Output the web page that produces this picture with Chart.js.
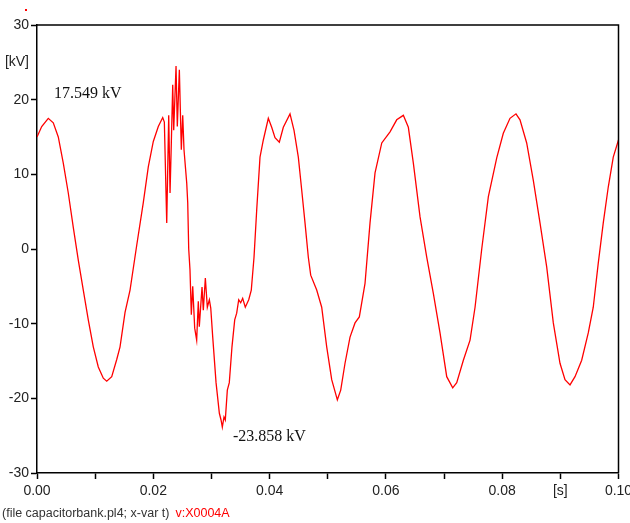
<!DOCTYPE html>
<html>
<head>
<meta charset="utf-8">
<script src="https://cdn.jsdelivr.net/npm/chart.js@4/dist/chart.umd.min.js"></script>
<style>
html,body{margin:0;padding:0;background:#fff;}
canvas{display:block;}
</style>
</head>
<body>
<canvas id="c" width="630" height="523"></canvas>
<script>
// time [s]
const times = [
0.0000,0.00081,0.00194,0.00280,0.00366,0.00452,0.00538,0.00624,0.00710,0.00796,
0.00882,0.00968,0.01054,0.01140,0.01199,0.01285,0.01371,0.01428,0.01514,0.01600,
0.01715,0.01828,0.01914,0.02000,0.02086,0.02162,
0.02190,0.02231,0.02265,0.02288,0.02310,0.02334,0.02351,0.02391,0.02413,0.02448,
0.02482,0.02506,0.02528,0.02575,0.02592,0.02609,0.02631,0.02654,0.02678,0.02712,
0.02746,0.02774,0.02791,0.02838,0.02860,0.02895,0.02929,0.02964,0.02988,0.03022,
0.03079,0.03136,0.03165,0.03187,0.03216,0.03238,0.03273,0.03307,0.03353,0.03400,
0.03434,0.03469,0.03503,0.03537,0.03582,0.03641,0.03685,0.03732,0.03778,0.03835,
0.03892,0.03978,0.04036,0.04093,0.04167,0.04236,0.04351,0.04420,0.04494,0.04552,
0.04609,0.04666,0.04707,0.04810,0.04896,0.04982,0.05068,0.05165,0.05223,0.05297,
0.05383,0.05469,0.05543,0.05641,0.05727,0.05813,0.05929,0.06071,0.06186,0.06300,
0.06386,0.06472,0.06587,0.06702,0.06815,0.06930,0.07046,0.07149,0.07218,0.07332,
0.07447,0.07533,0.07648,0.07762,0.07906,0.08019,0.08134,0.08237,0.08306,0.08421,
0.08535,0.08650,0.08765,0.08879,0.08994,0.09080,0.09166,0.09252,0.09367,0.09481,
0.09566,0.09652,0.09738,0.09824,0.09910,0.10000
];
// voltage [kV]
const voltages = [
15.0,16.4,17.5,16.9,15.0,11.5,7.5,2.9,-1.5,-5.5,
-9.5,-13.1,-15.8,-17.3,-17.7,-17.1,-14.8,-13.1,-8.5,-5.5,
0.5,6.2,11.0,14.4,16.4,17.6,
17.0,3.5,17.9,7.5,14.2,22.0,15.9,24.5,16.4,24.0,
13.3,17.9,13.3,8.8,6.2,0.0,-2.8,-8.8,-5.0,-10.6,
-12.2,-7.0,-10.4,-5.1,-8.2,-3.9,-7.8,-6.8,-7.9,-11.8,
-17.9,-22.0,-22.9,-23.86,-22.5,-22.9,-18.9,-17.9,-13.1,-9.5,
-8.6,-6.8,-7.2,-6.6,-7.8,-6.8,-5.5,-1.1,5.2,12.3,
14.6,17.5,16.3,14.9,14.3,16.3,18.1,15.9,12.3,7.9,
3.5,-1.1,-3.5,-5.5,-7.8,-13.1,-17.5,-20.2,-18.9,-15.3,
-11.8,-9.9,-9.1,-4.6,3.5,10.2,14.2,15.7,17.3,17.9,
16.3,11.5,4.3,-1.1,-5.9,-11.2,-17.1,-18.6,-17.9,-14.9,
-12.2,-7.8,0.0,7.0,12.2,15.5,17.5,18.1,17.3,14.2,
9.2,3.5,-2.4,-9.9,-15.3,-17.5,-18.2,-17.1,-14.9,-11.2,
-7.8,-1.9,3.5,8.3,12.3,14.6
];
const xTickValues = [0,0.01,0.02,0.03,0.04,0.05,0.06,0.07,0.08,0.09,0.10];
const xTickLabels = ['0.00','','0.02','','0.04','','0.06','','0.08','[s]','0.10'];
const yTickValues = [-30,-20,-10,0,10,20,25,30];
const yTickLabels = ['-30','-20','-10','0','10','20','[kV]','30'];
const yUnitTick = 25;
const annotations = [
  {text:'17.549 kV', t:0.00292, v:20.75},
  {text:'-23.858 kV', t:0.0337, v:-25.2}
];
const footerText = '(file capacitorbank.pl4; x-var t)';
const footerSignal = 'v:X0004A';

const points = times.map((t,i)=>({x:t,y:voltages[i]}));

const overlay = {
  id:'overlay',
  afterDraw(chart){
    const ctx = chart.ctx, a = chart.chartArea;
    const xs = chart.scales.x, ys = chart.scales.y;
    ctx.save();
    ctx.strokeStyle = '#000';
    ctx.lineWidth = 1.5;
    ctx.beginPath();
    ctx.moveTo(a.left, a.top); ctx.lineTo(a.right, a.top); ctx.lineTo(a.right, a.bottom);
    ctx.stroke();
    ctx.fillStyle = '#111';
    ctx.font = '16px "Liberation Serif", "Times New Roman", serif';
    ctx.textBaseline = 'middle';
    ctx.textAlign = 'left';
    annotations.forEach(an=>{
      ctx.fillText(an.text, xs.getPixelForValue(an.t), ys.getPixelForValue(an.v));
    });
    ctx.font = '12.5px "Liberation Sans", Arial, sans-serif';
    ctx.textBaseline = 'alphabetic';
    ctx.fillStyle = '#333';
    ctx.fillText(footerText, 2, 517);
    const w = ctx.measureText(footerText).width;
    ctx.fillStyle = '#f00';
    ctx.fillText(footerSignal, 2 + w + 6, 517);
    ctx.fillRect(25, 9, 2, 2);
    ctx.restore();
  }
};

new Chart(document.getElementById('c'), {
  type:'line',
  data:{datasets:[{data:points, borderColor:'#ff0000', borderWidth:1.3, pointRadius:0, tension:0, fill:false}]},
  options:{
    responsive:false, animation:false, parsing:true,
    layout:{padding:{top:25, right:11.5, left:0, bottom:0}},
    plugins:{legend:{display:false}, tooltip:{enabled:false}},
    scales:{
      x:{
        type:'linear', min:0, max:0.1,
        afterBuildTicks(s){ s.ticks = xTickValues.map(v=>({value:v})); },
        afterFit(s){ s.height = 50; s.paddingLeft = 0; s.paddingRight = 0; },
        grid:{drawOnChartArea:false, drawTicks:true, tickLength:6, tickColor:'#000', tickWidth:1.5},
        border:{display:true, color:'#000', width:1.5},
        ticks:{
          autoSkip:false, maxRotation:0, minRotation:0, padding:4, color:'#222',
          font:{family:'"Liberation Sans", Arial, sans-serif', size:14},
          callback(v, i){ const k = xTickValues.findIndex(q=>Math.abs(q-v)<1e-9); return k>=0 ? xTickLabels[k] : ''; }
        }
      },
      y:{
        type:'linear', min:-30, max:30,
        afterBuildTicks(s){ s.ticks = yTickValues.map(v=>({value:v})); },
        afterFit(s){ s.width = 37; s.paddingTop = 0; s.paddingBottom = 0; },
        grid:{drawOnChartArea:false, drawTicks:true, tickLength:6,
              tickColor:(c)=> (c.tick && c.tick.value===yUnitTick) ? 'rgba(0,0,0,0)' : '#000', tickWidth:1.5},
        border:{display:true, color:'#000', width:1.5},
        ticks:{
          autoSkip:false, padding:2, color:'#222',
          font:{family:'"Liberation Sans", Arial, sans-serif', size:14},
          callback(v){ const k = yTickValues.indexOf(v); return k>=0 ? yTickLabels[k] : ''; }
        }
      }
    }
  },
  plugins:[overlay]
});
</script>
</body>
</html>
